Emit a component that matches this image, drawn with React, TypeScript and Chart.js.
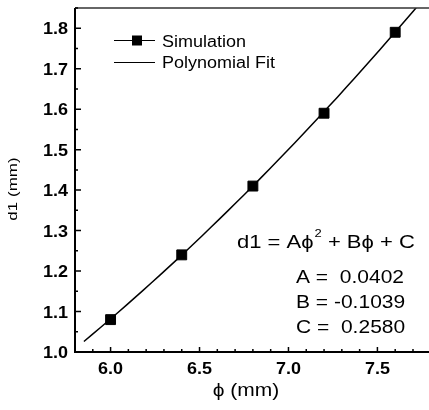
import React, { useEffect, useRef } from "react";
import { Chart, registerables } from "chart.js";

Chart.register(...registerables);

// Simulated d1 versus phi
const phiValues = [6.0, 6.4, 6.8, 7.2, 7.6];
const d1Values = [1.08, 1.24, 1.41, 1.59, 1.79];

// Quadratic fit coefficients d1 = A*phi^2 + B*phi + C
const coefA = 0.0402;
const coefB = -0.1039;
const coefC = 0.258;
const fitStart = 5.85;
const fitEnd = 7.75;
const fitSteps = 40;

const xTickLabels = [6.0, 6.5, 7.0, 7.5];
const yTickLabels = [1.0, 1.1, 1.2, 1.3, 1.4, 1.5, 1.6, 1.7, 1.8];

const FONT = "'Liberation Sans', Arial, sans-serif";

const fitPoints = Array.from({ length: fitSteps + 1 }, (_, i) => {
  const x = fitStart + ((fitEnd - fitStart) * i) / fitSteps;
  return { x, y: coefA * x * x + coefB * x + coefC };
});

// text drawn slightly condensed vertically
function text(ctx: CanvasRenderingContext2D, s: string, x: number, y: number, font: string, sy = 0.88) {
  ctx.save();
  ctx.font = font;
  ctx.translate(x, y);
  ctx.scale(1, sy);
  ctx.fillText(s, 0, 0);
  ctx.restore();
}

const decorPlugin = {
  id: "decor",
  afterDraw(chart: any) {
    const { ctx, chartArea, scales } = chart;
    const xs = scales.x;
    const ys = scales.y;
    ctx.save();
    ctx.strokeStyle = "#000";

    // frame: left and bottom heavy, top thin
    ctx.lineWidth = 2;
    ctx.beginPath();
    ctx.moveTo(chartArea.left, chartArea.top);
    ctx.lineTo(chartArea.left, chartArea.bottom);
    ctx.lineTo(chartArea.right + 2, chartArea.bottom);
    ctx.stroke();
    ctx.lineWidth = 1.5;
    ctx.strokeStyle = "#333";
    ctx.beginPath();
    ctx.moveTo(chartArea.left, chartArea.top);
    ctx.lineTo(chartArea.right + 2, chartArea.top);
    ctx.stroke();

    // inward ticks
    ctx.strokeStyle = "#000";
    ctx.lineWidth = 1.5;
    ctx.beginPath();
    for (let i = 0; i <= 20; i++) {
      const v = 5.8 + i * 0.1;
      if (v > xs.max + 1e-6) break;
      const px = xs.getPixelForValue(v);
      const major = Math.abs(v * 2 - Math.round(v * 2)) < 1e-6;
      ctx.moveTo(px, chartArea.bottom);
      ctx.lineTo(px, chartArea.bottom - (major ? 5 : 3));
    }
    for (let i = 0; i <= 20; i++) {
      const v = 1.0 + i * 0.05;
      if (v > ys.max + 1e-6) break;
      const py = ys.getPixelForValue(v);
      const major = i % 2 === 0;
      ctx.moveTo(chartArea.left, py);
      ctx.lineTo(chartArea.left + (major ? 6 : 3), py);
    }
    ctx.stroke();

    // tick labels
    ctx.fillStyle = "#000";
    ctx.textBaseline = "alphabetic";
    ctx.textAlign = "right";
    yTickLabels.forEach((v) => {
      text(ctx, v.toFixed(1), chartArea.left - 7, ys.getPixelForValue(v) + 6, `bold 18px ${FONT}`, 0.9);
    });
    ctx.textAlign = "center";
    xTickLabels.forEach((v) => {
      text(ctx, v.toFixed(1), xs.getPixelForValue(v), chartArea.bottom + 22, `bold 18px ${FONT}`, 0.9);
    });

    // axis titles
    text(ctx, "ϕ (mm)", 246, 396, `21px ${FONT}`, 0.85);
    ctx.save();
    ctx.translate(13, 189);
    ctx.rotate(-Math.PI / 2);
    ctx.textBaseline = "middle";
    text(ctx, "d1 (mm)", 0, 0, `17px ${FONT}`, 0.8);
    ctx.restore();

    // legend
    ctx.lineWidth = 1;
    ctx.beginPath();
    ctx.moveTo(114, 40.5);
    ctx.lineTo(155, 40.5);
    ctx.moveTo(114, 62.5);
    ctx.lineTo(155, 62.5);
    ctx.stroke();
    ctx.fillRect(132, 35.5, 10, 10);
    ctx.textAlign = "left";
    text(ctx, "Simulation", 162, 47, `18px ${FONT}`, 0.88);
    text(ctx, "Polynomial Fit", 162, 68, `18px ${FONT}`, 0.88);

    // fit equation
    const eqFont = `22px ${FONT}`;
    const p1 = "d1 = Aϕ";
    const p2 = " + Bϕ + C";
    let x0 = 237;
    text(ctx, p1, x0, 248, eqFont, 0.85);
    ctx.font = eqFont;
    x0 += ctx.measureText(p1).width;
    text(ctx, "2", x0 + 1, 237, `13px ${FONT}`, 0.85);
    ctx.font = `13px ${FONT}`;
    x0 += ctx.measureText("2").width + 1;
    text(ctx, p2, x0, 248, eqFont, 0.85);

    const cFont = `21px ${FONT}`;
    text(ctx, `A =  ${coefA.toFixed(4)}`, 296, 283, cFont, 0.85);
    text(ctx, `B = ${coefB.toFixed(4)}`, 296, 308, cFont, 0.85);
    text(ctx, `C =  ${coefC.toFixed(4)}`, 296, 333, cFont, 0.85);

    ctx.restore();
  },
};

export default function App() {
  const canvasRef = useRef<HTMLCanvasElement>(null);

  useEffect(() => {
    if (!canvasRef.current) return;
    const chart = new Chart(canvasRef.current, {
      type: "scatter",
      data: {
        datasets: [
          {
            label: "Polynomial Fit",
            data: fitPoints,
            showLine: true,
            borderColor: "#000",
            borderWidth: 1.5,
            pointRadius: 0,
            tension: 0,
            order: 2,
          },
          {
            label: "Simulation",
            data: phiValues.map((x, i) => ({ x, y: d1Values[i] })),
            showLine: false,
            pointStyle: "rect",
            pointRadius: 7,
            backgroundColor: "#000",
            borderColor: "#000",
            borderWidth: 1,
            order: 1,
          },
        ],
      },
      options: {
        animation: false,
        responsive: false,
        devicePixelRatio: 1,
        layout: { autoPadding: false, padding: { left: 0, right: 0, top: 8, bottom: 0 } },
        plugins: { legend: { display: false }, tooltip: { enabled: false } },
        scales: {
          x: {
            type: "linear",
            min: 5.8,
            max: 7.79,
            grid: { display: false },
            border: { display: false },
            ticks: { display: false },
            afterFit: (s: any) => {
              s.height = 58;
              s.paddingLeft = 0;
              s.paddingRight = 0;
            },
          },
          y: {
            type: "linear",
            min: 1.0,
            max: 1.85,
            grid: { display: false },
            border: { display: false },
            ticks: { display: false },
            afterFit: (s: any) => {
              s.width = 75;
              s.paddingTop = 0;
              s.paddingBottom = 0;
            },
          },
        },
      },
      plugins: [decorPlugin],
    });
    return () => chart.destroy();
  }, []);

  return (
    <div style={{ position: "fixed", left: 0, top: 0, width: 429, height: 410, background: "#fff" }}>
      <canvas ref={canvasRef} width={429} height={410} />
    </div>
  );
}
